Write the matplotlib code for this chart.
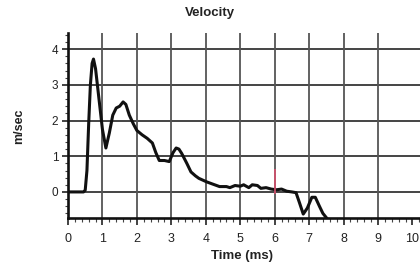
import matplotlib
matplotlib.use("Agg")
import matplotlib.pyplot as plt
from matplotlib.ticker import MultipleLocator

# ---- data ----
time_ms = [0, 0.45, 0.5, 0.55, 0.6, 0.65, 0.7, 0.74, 0.8, 0.9, 1.0, 1.1, 1.2, 1.3,
           1.4, 1.5, 1.6, 1.68, 1.78, 1.9, 2.0, 2.15, 2.3, 2.45, 2.55, 2.65, 2.8,
           2.94, 3.05, 3.14, 3.22, 3.3, 3.45, 3.57, 3.7, 3.8, 4.03, 4.2, 4.4, 4.6,
           4.7, 4.85, 5.0, 5.1, 5.25, 5.35, 5.5, 5.6, 5.75, 5.9, 6.05, 6.2, 6.35,
           6.5, 6.62, 6.72, 6.83, 6.95, 7.08, 7.18, 7.3, 7.4, 7.5]
velocity = [0, 0, 0.05, 0.6, 1.9, 3.0, 3.6, 3.72, 3.45, 2.6, 1.75, 1.23, 1.65, 2.15,
            2.35, 2.4, 2.52, 2.45, 2.15, 1.9, 1.72, 1.6, 1.5, 1.37, 1.1, 0.88, 0.88,
            0.85, 1.1, 1.23, 1.2, 1.08, 0.8, 0.56, 0.45, 0.38, 0.28, 0.22, 0.15, 0.15,
            0.12, 0.18, 0.16, 0.2, 0.12, 0.2, 0.18, 0.1, 0.12, 0.08, 0.06, 0.08, 0.02,
            0.0, -0.02, -0.3, -0.62, -0.45, -0.15, -0.15, -0.4, -0.6, -0.72]
marker_time = 6.0
marker_span = [-0.05, 0.65]
x_ticks = [0, 1, 2, 3, 4, 5, 6, 7, 8, 9, 10]
y_ticks = [0, 1, 2, 3, 4]
x_grid = [1, 2, 3, 4, 5, 6, 7, 8, 9]
y_grid = [0, 1, 2, 3, 4]

plt.rcParams['font.family'] = ['Liberation Sans', 'DejaVu Sans']

fig = plt.figure(figsize=(4.2, 2.71), dpi=100)
fig.patch.set_facecolor('white')
ax = fig.add_axes([68/420, 53/271, 352/420, 185/271])

ax.set_xlim(0, 10.22)
ax.set_ylim(-0.73, 4.45)

for g in y_grid:
    ax.axhline(g, color='#444444', lw=1.4, zorder=1)
for g in x_grid:
    ax.axvline(g, color='#555555', lw=1.3, zorder=1)

ax.plot(time_ms, velocity, color='#111111', lw=2.2, zorder=3,
        solid_joinstyle='round')
ax.vlines(marker_time, marker_span[0], marker_span[1], color='#d8506e', lw=1.2, zorder=4)

for s in ['top', 'right']:
    ax.spines[s].set_visible(False)
for s in ['left', 'bottom']:
    ax.spines[s].set_linewidth(1.9)
    ax.spines[s].set_color('#111111')

ax.set_xticks(x_ticks)
ax.set_yticks(y_ticks)
ax.xaxis.set_minor_locator(MultipleLocator(0.2))
ax.yaxis.set_minor_locator(MultipleLocator(0.2))
ax.tick_params(axis='x', which='major', direction='out', length=5, width=1.2,
               labelsize=9, pad=6, colors='#222222')
ax.tick_params(axis='x', which='minor', direction='out', length=3, width=0.8,
               colors='#444444')
ax.tick_params(axis='y', which='major', direction='out', length=4, width=1.2,
               labelsize=8.5, pad=3, colors='#222222')
ax.tick_params(axis='y', which='minor', direction='out', length=2.5, width=0.8,
               colors='#444444')

fig.text(210/420, 1 - 13/271, 'Velocity', ha='center', va='center',
         fontsize=9.5, fontweight='bold', color='#222222')
fig.text(242/420, 1 - 256/271, 'Time (ms)', ha='center', va='center',
         fontsize=9.5, fontweight='bold', color='#222222')
fig.text(19/420, 1 - 126/271, 'm/sec', ha='center', va='center', rotation=90,
         fontsize=9, fontweight='bold', color='#222222')

fig.savefig('out.png', dpi=100, facecolor='white')
